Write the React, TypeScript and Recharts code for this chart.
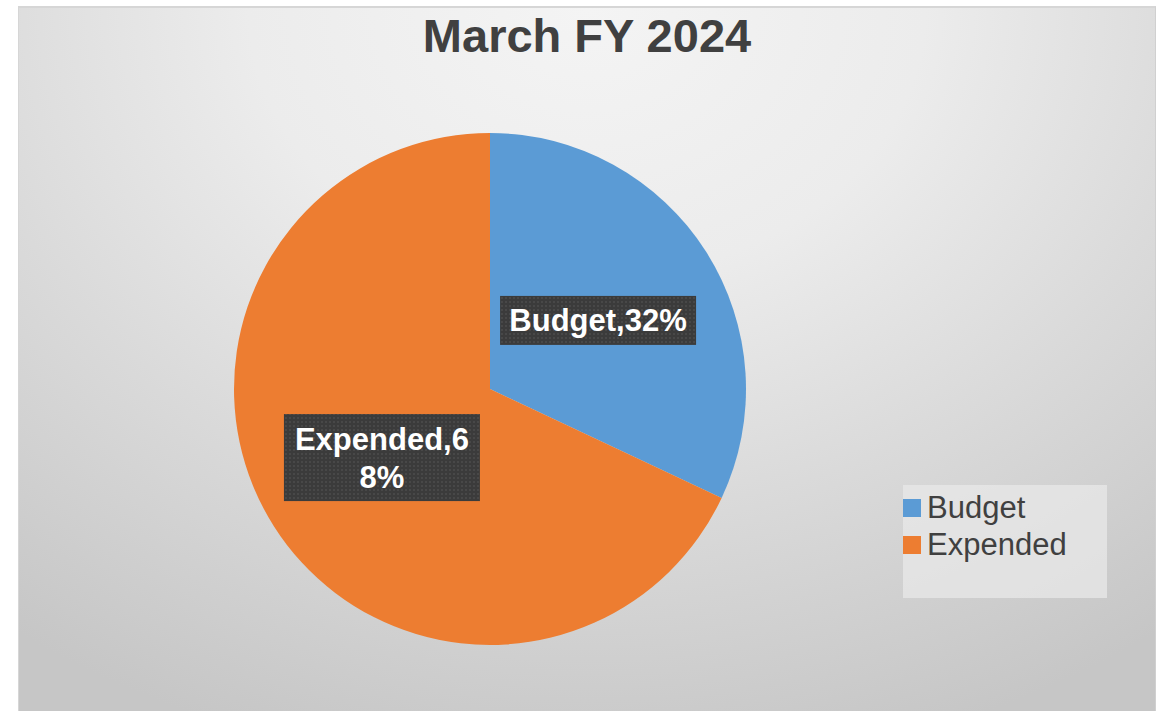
import React from "react";
import { PieChart, Pie, Cell, Legend } from "recharts";

const categories = ["Budget", "Expended"];
const values = [32, 68];
const colors = ["#5B9BD5", "#ED7D31"];
const title = "March FY 2024";

const data = categories.map((name, i) => ({ name, value: values[i] }));

const FONT = '"Liberation Sans", Arial, sans-serif';
const RAD = Math.PI / 180;

const wrapText = (s: string, max: number) => {
  const lines: string[] = [];
  let rest = s;
  while (rest.length > max) {
    lines.push(rest.slice(0, max));
    rest = rest.slice(max);
  }
  lines.push(rest);
  return lines;
};

const renderLabel = (props: any) => {
  const { cx, cy, midAngle, outerRadius, percent, name, index } = props;
  const r = outerRadius * 0.5;
  const x = cx + r * Math.cos(-midAngle * RAD);
  const y = cy + r * Math.sin(-midAngle * RAD);
  const text = `${name},${Math.round(percent * 100)}%`;
  const lines = wrapText(text, 10);
  const lh = 38;
  const h = 11 + lines.length * lh;
  const w = 196;
  const pid = `dots${index}`;
  const firstBase = y + 11 - ((lines.length - 1) * lh) / 2;
  return (
    <g>
      <defs>
        <pattern id={pid} width="4" height="4" patternUnits="userSpaceOnUse">
          <rect width="4" height="4" fill="#3b3b3b" />
          <circle cx="2" cy="2" r="0.7" fill="#5e5e5e" />
        </pattern>
      </defs>
      <rect x={x - w / 2} y={y - h / 2} width={w} height={h} fill={`url(#${pid})`} />
      {lines.map((ln, i) => (
        <text
          key={i}
          x={x}
          y={firstBase + i * lh}
          textAnchor="middle"
          fill="#ffffff"
          fontFamily={FONT}
          fontWeight="bold"
          fontSize={31}
        >
          {ln}
        </text>
      ))}
    </g>
  );
};

const renderLegend = (props: any) => {
  const { payload } = props;
  return (
    <div
      style={{
        width: 204,
        height: 113,
        background: "rgba(232,232,232,0.75)",
        boxSizing: "border-box",
        paddingTop: 4,
      }}
    >
      {(payload || []).map((p: any, i: number) => (
        <div
          key={i}
          style={{
            display: "flex",
            alignItems: "center",
            height: 37,
            fontFamily: FONT,
            fontSize: 31,
            color: "#404040",
          }}
        >
          <span
            style={{
              display: "inline-block",
              width: 18,
              height: 18,
              background: p.color,
              marginRight: 6,
            }}
          />
          <span>{p.value}</span>
        </div>
      ))}
    </div>
  );
};

export default function App() {
  return (
    <div style={{ position: "absolute", left: 0, top: 0, width: 1165, height: 711, background: "#ffffff" }}>
      <div
        style={{
          position: "absolute",
          left: 18,
          top: 6,
          width: 1138,
          height: 705,
          boxSizing: "border-box",
          borderTop: "2px solid #d6d6d6",
          borderLeft: "1px solid #d6d6d6",
          borderRight: "1px solid #d0d0d0",
          background:
            "radial-gradient(ellipse 85% 110% at 50% 0%, #f4f4f4 0%, #ececec 35%, #dadada 65%, #c6c6c6 100%)",
        }}
      />
      <div
        style={{
          position: "absolute",
          left: 0,
          top: 9,
          width: 1174,
          textAlign: "center",
          fontFamily: FONT,
          fontWeight: "bold",
          fontSize: 47,
          color: "#404040",
          lineHeight: "54px",
        }}
      >
        {title}
      </div>
      <div style={{ position: "absolute", left: 0, top: 0 }}>
        <PieChart width={1165} height={711} margin={{ top: 0, right: 0, bottom: 0, left: 0 }}>
          <Pie
            data={data}
            dataKey="value"
            nameKey="name"
            cx={490}
            cy={389}
            outerRadius={256}
            startAngle={90}
            endAngle={-270}
            stroke="none"
            labelLine={false}
            label={renderLabel}
            isAnimationActive={false}
          >
            {data.map((d, i) => (
              <Cell key={d.name} fill={colors[i]} />
            ))}
          </Pie>
          <Legend
            content={renderLegend}
            layout="vertical"
            wrapperStyle={{ position: "absolute", left: 903, top: 485, width: 204, height: 113 }}
          />
        </PieChart>
      </div>
    </div>
  );
}
